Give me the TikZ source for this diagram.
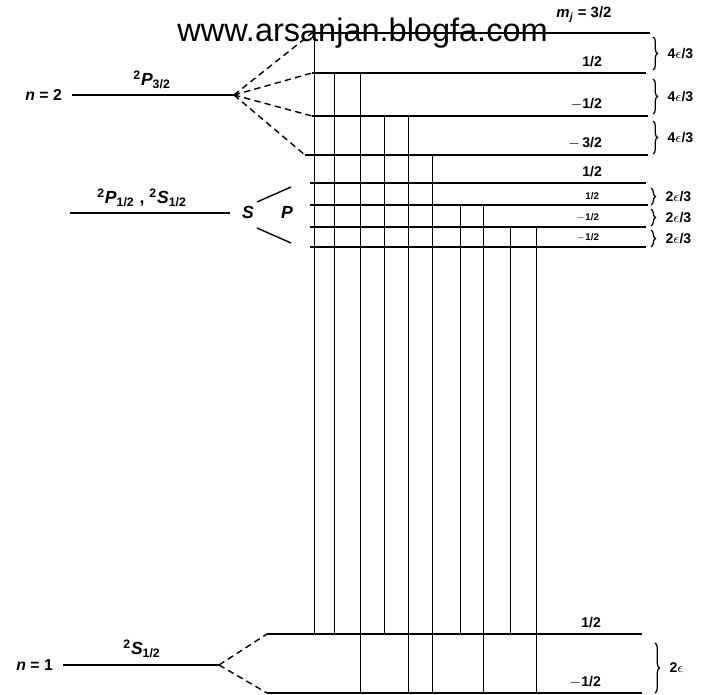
\documentclass[tikz,border=0pt]{standalone}
\usepackage{fontspec}
\setmainfont{Liberation Sans}
\usetikzlibrary{decorations.pathreplacing}

\begin{document}
\begin{tikzpicture}[
  x=0.02cm,
  y=-0.02cm,
  level/.style={line width=1.6pt},
  trans/.style={line width=.55pt},
  fan/.style={line width=.8pt,dash pattern=on 3.6pt off 2.4pt},
  brc/.style={line width=.7pt,decorate,decoration={brace,amplitude=2.6pt}},
  mj/.style={font=\bfseries\fontsize{8}{9}\selectfont,anchor=south east,inner sep=1pt},
  mjs/.style={font=\bfseries\fontsize{5.5}{6}\selectfont,anchor=south east,inner sep=1pt},
  gap/.style={font=\bfseries\fontsize{8}{9}\selectfont,anchor=west,inner sep=1pt},
  term/.style={font=\bfseries\fontsize{10}{11}\selectfont,inner sep=1pt},
  shell/.style={font=\bfseries\fontsize{9}{10}\selectfont,anchor=east,inner sep=1pt}
]
\useasboundingbox (0,0) rectangle (706,695);

% unsplit terms
\draw[level] (72,95) coordinate (p32l) -- (234,95) coordinate (p32r);
\draw[level] (70,213) coordinate (p12l) -- (230,213) coordinate (p12r);
\draw[level] (63,665) coordinate (s12l) -- (219,665) coordinate (s12r);
\node[shell] (n2) at (64,95) {\textit{n}\ =\ 2};
\node[shell] (n1) at (55,665) {\textit{n}\ =\ 1};
\node[term] (tp32) at (152,80) {\textsuperscript{2}\textit{P}\textsubscript{3/2}};
\node[term] (tp12) at (142,198) {\textsuperscript{2}\textit{P}\textsubscript{1/2} ,\ \textsuperscript{2}\textit{S}\textsubscript{1/2}};
\node[term] (ts12) at (142,649) {\textsuperscript{2}\textit{S}\textsubscript{1/2}};

% Zeeman levels, upper
\draw[level] (312,33) coordinate (u1) -- (650,33);
\draw[level] (312,73) coordinate (u2) -- (646,73);
\draw[level] (312,116) coordinate (u3) -- (648,116);
\draw[level] (305,155) coordinate (u4) -- (648,155);
\draw[level] (310,183) coordinate (u5) -- (646,183);
\draw[level] (310,205) coordinate (u6) -- (648,205);
\draw[level] (310,227) coordinate (u7) -- (646,227);
\draw[level] (310,247) coordinate (u8) -- (646,247);
% lower
\draw[level] (267,634) coordinate (d1) -- (642,634);
\draw[level] (267,693) coordinate (d2) -- (642,693);

\foreach \c in {u1,u2,u3,u4}
  \draw[fan] (p32r) -- (\c);
\draw[fan] (s12r) -- (d1);
\draw[fan] (s12r) -- (d2);

\node[term] (lS) at (248,212) {\textit{S}};
\node[term] (lP) at (287,212) {\textit{P}};
\draw[trans,line width=.8pt] (257,202) -- (291,187);
\draw[trans,line width=.8pt] (257,228) -- (291,243);

% transitions
\foreach \x/\a/\b in {314/u1/d1,334/u2/d1,360/u2/d2,384/u3/d1,408/u3/d2,
                      432/u4/d2,460/u6/d1,483/u6/d2,510/u7/d1,536/u7/d2}
  \draw[trans] (\x,0 |- \a) -- (\x,0 |- \b);

% m_j labels
\node[font=\bfseries\fontsize{8.5}{9}\selectfont,inner sep=1pt] (mtop) at (584,15)
  {\textit{m}\textsubscript{\textit{j}} = 3/2};
\node[mj] (m2) at (604,69) {1/2};
\node[mj] (m3) at (604,112) {$-$1/2};
\node[mj] (m4) at (604,151) {$-$\,3/2};
\node[mj] (m5) at (604,179) {1/2};
\node[mjs] (m6) at (601,202) {1/2};
\node[mjs] (m7) at (601,224) {$-$1/2};
\node[mjs] (m8) at (601,244) {$-$1/2};
\node[mj] (m9) at (603,630) {1/2};
\node[mj] (m10) at (603,690) {$-$1/2};

% splittings
\draw[brc] (653,37) -- (653,70) node[gap,midway,xshift=7pt] (g1) {4$\epsilon$/3};
\draw[brc] (653,79) -- (653,114) node[gap,midway,xshift=7pt] (g2) {4$\epsilon$/3};
\draw[brc] (653,121) -- (653,154) node[gap,midway,xshift=7pt] (g3) {4$\epsilon$/3};
\draw[brc] (651,188) -- (651,205) node[gap,midway,xshift=7pt] (g4) {2$\epsilon$/3};
\draw[brc] (651,209) -- (651,226) node[gap,midway,xshift=7pt] (g5) {2$\epsilon$/3};
\draw[brc] (651,230) -- (651,247) node[gap,midway,xshift=7pt] (g6) {2$\epsilon$/3};
\draw[brc] (655,643) -- (655,693) node[gap,midway,xshift=7pt] (g7) {2$\epsilon$};

\node[font=\fontsize{18.5}{19}\selectfont,anchor=base west,inner sep=0pt] (www)
  at (177,42) {www.arsanjan.blogfa.com};
\end{tikzpicture}
\end{document}
